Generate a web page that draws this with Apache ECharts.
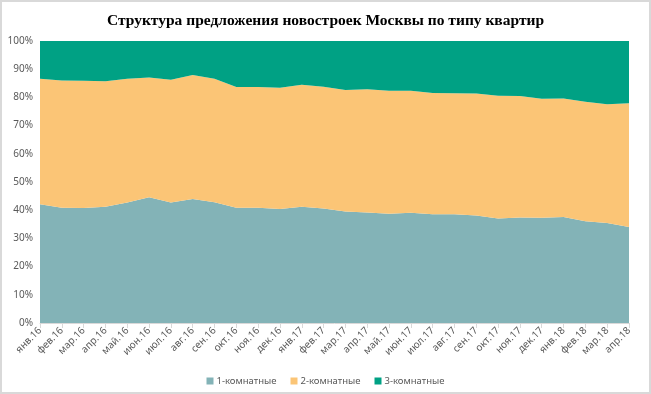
<!DOCTYPE html>
<html><head><meta charset="utf-8">
<script src="https://cdn.jsdelivr.net/npm/echarts@6/dist/echarts.min.js"></script>
<style>
html,body{margin:0;padding:0;background:#fff;}
#frame{position:absolute;left:0;top:0;width:647px;height:390px;border:2px solid #d9d9d9;}
#c{position:absolute;left:0;top:0;width:651px;height:394px;}
</style></head>
<body><div id="frame"></div><div id="c"></div>
<script>
var categories = ['янв.16','фев.16','мар.16','апр.16','май.16','июн.16','июл.16','авг.16','сен.16','окт.16','ноя.16','дек.16',
 'янв.17','фев.17','мар.17','апр.17','май.17','июн.17','июл.17','авг.17','сен.17','окт.17','ноя.17','дек.17',
 'янв.18','фев.18','мар.18','апр.18'];
var oneRoom = [42.1,40.9,40.8,41.2,42.7,44.6,42.7,44.0,42.8,40.9,40.9,40.4,
 41.2,40.6,39.5,39.2,38.7,39.1,38.6,38.6,38.1,37.1,37.4,37.3,37.6,36.1,35.5,34.0];
var twoRoom = [44.5,45.1,45.1,44.5,43.9,42.5,43.6,43.9,43.8,42.8,42.8,43.0,
 43.3,43.2,43.1,43.7,43.7,43.3,43.0,42.9,43.3,43.5,43.1,42.2,42.0,42.4,42.1,43.9];
var threeRoom = [13.4,14.0,14.1,14.3,13.4,12.9,13.7,12.1,13.4,16.3,16.3,16.6,
 15.5,16.2,17.4,17.1,17.6,17.6,18.4,18.5,18.6,19.4,19.5,20.5,20.4,21.5,22.4,22.1];
var yTicks = ['0%','10%','20%','30%','40%','50%','60%','70%','80%','90%','100%'];
var names = ['1-комнатные','2-комнатные','3-комнатные'];
var colors = ['#83B3B7','#FBC576','#00A184'];

var chart = echarts.init(document.getElementById('c'), null, {renderer:'canvas'});
var font = 'Noto Sans';
function mk(i, data){
  return {name:names[i], type:'line', stack:'total', data:data, symbol:'none',
    lineStyle:{width:0}, areaStyle:{color:colors[i], opacity:1}, itemStyle:{color:colors[i]}};
}
chart.setOption({
  animation:false,
  title:{text:'Структура предложения новостроек Москвы по типу квартир', left:'center', top:8,
    textStyle:{fontFamily:'Liberation Serif', fontWeight:'bold', fontSize:15.5, color:'#000'}},
  grid:{left:40, right:22, top:41, bottom:71},
  legend:{left:'center', top:371, itemWidth:7, itemHeight:7, itemGap:14, icon:'rect',
    textStyle:{fontFamily:font, fontSize:9.5, color:'#595959', padding:[0,0,0,-2]}},
  xAxis:{type:'category', data:categories, boundaryGap:false,
    axisLine:{lineStyle:{color:'#d9d9d9'}}, axisTick:{show:true, lineStyle:{color:'#d9d9d9'}},
    axisLabel:{rotate:45, interval:0, fontFamily:font, fontSize:10, color:'#595959', margin:6}},
  yAxis:{type:'value', min:0, max:100, interval:10,
    axisLabel:{fontFamily:font, fontSize:10, color:'#595959', margin:7,
      formatter:function(v){return yTicks[Math.round(v/10)];}},
    splitLine:{show:false}, axisLine:{show:false}, axisTick:{show:false}},
  series:[mk(0, oneRoom), mk(1, twoRoom), mk(2, threeRoom)]
});
</script></body></html>
